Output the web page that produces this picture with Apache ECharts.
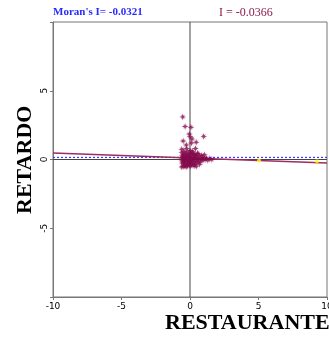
<!DOCTYPE html>
<html><head><meta charset="utf-8">
<script src="https://cdn.jsdelivr.net/npm/echarts@6/dist/echarts.min.js"></script>
<style>html,body{margin:0;padding:0;background:#fff}#c{width:329px;height:338px}</style>
</head><body><div id="c"></div>
<script>
const xTicks = [-10, -5, 0, 5, 10];
const yTicks = [-5, 0, 5];
const pointsX = [-0.53,-0.36,0.07,1.0,-0.05,0.0,-0.5,0.45,-0.27,-0.6,0.15,0.1,
 -0.6,-0.55,-0.58,-0.6,-0.55,-0.5,-0.45,-0.4,-0.42,-0.38,-0.35,-0.3,-0.3,-0.25,-0.22,-0.2,-0.18,-0.15,-0.12,-0.1,-0.08,-0.05,-0.02,0.0,0.02,0.05,0.08,0.1,0.12,0.15,0.18,0.2,0.22,0.25,0.28,0.3,0.33,0.36,0.4,0.42,0.45,0.5,0.52,0.55,0.6,0.65,0.7,0.75,0.8,0.85,0.9,0.95,1.0,1.1,1.2,1.3,1.45,1.6,-0.5,-0.48,-0.45,-0.4,-0.35,-0.32,-0.28,-0.2,-0.15,-0.1,0.0,0.05,0.1,0.2,0.3,0.35,0.45,0.6,-0.6,-0.52,0.0,-0.25,0.4,0.7,1.05];
const pointsY = [3.1,2.4,2.35,1.68,1.85,1.65,1.35,1.25,1.05,0.75,1.5,1.2,
 0.5,0.3,0.1,-0.1,-0.3,-0.5,0.6,0.2,-0.05,-0.25,0.45,0.05,-0.4,0.3,-0.15,0.55,-0.45,0.15,-0.3,0.4,-0.05,0.25,-0.2,0.65,-0.5,0.1,0.35,-0.35,0.0,0.5,-0.15,0.25,-0.4,0.05,0.4,-0.25,0.15,-0.05,0.3,-0.3,0.05,0.2,-0.15,0.45,0.0,-0.2,0.25,0.05,-0.1,0.3,0.1,-0.05,0.15,0.0,0.1,-0.05,0.05,0.0,0.0,-0.2,0.35,-0.45,-0.1,0.25,-0.55,0.0,-0.25,0.2,-0.35,0.45,-0.1,0.6,-0.45,0.35,-0.5,0.4,-0.55,0.2,0.0,0.8,0.8,-0.35,0.35];
const highlightX = [5.04, 9.27];
const highlightY = [-0.07, -0.12];
const slope = -0.0366;
const intercept = 0.11;
const refLevel = 0.15;
const title1 = "Moran's I= -0.0321";
const title2 = "I = -0.0366";
const xName = "RESTAURANTES";
const yName = "RETARDO";

const chart = echarts.init(document.getElementById('c'), null, {renderer:'canvas'});
const star = 'path://M5,0 L6,3.5 L8.5,1.5 L6.5,4 L10,5 L6.5,6 L8.5,8.5 L6,6.5 L5,10 L4,6.5 L1.5,8.5 L3.5,6 L0,5 L3.5,4 L1.5,1.5 L4,3.5 Z';
const pts = pointsX.map((x,i)=>[x,pointsY[i]]);
const hpts = highlightX.map((x,i)=>[x,highlightY[i]]);
const regLine = [[xTicks[0], intercept + slope*xTicks[0]], [xTicks[xTicks.length-1], intercept + slope*xTicks[xTicks.length-1]]];
const refLine = [[xTicks[0], refLevel], [xTicks[xTicks.length-1], refLevel]];
const labelFont = {fontFamily:'DejaVu Sans', fontSize:9, color:'#000'};
chart.setOption({
  animation:false,
  backgroundColor:'#fff',
  grid:{left:53, top:22, width:274, height:275, show:true, borderColor:'#777', borderWidth:1, backgroundColor:'transparent', containLabel:false, outerBoundsMode:'none'},
  xAxis:{type:'value', min:-10, max:10, interval:5,
    axisLine:{show:true, onZero:false, lineStyle:{color:'#777'}},
    axisTick:{show:true, length:3, lineStyle:{color:'#777'}},
    axisLabel:Object.assign({margin:5, hideOverlap:false, formatter:v=>xTicks.includes(v)?String(v):''}, labelFont),
    splitLine:{show:false}},
  yAxis:{type:'value', min:-10, max:10, interval:5,
    axisLine:{show:true, onZero:false, lineStyle:{color:'#777'}},
    axisTick:{show:true, length:3, lineStyle:{color:'#777'}},
    axisLabel:Object.assign({margin:4, rotate:90, formatter:v=>yTicks.includes(v)?String(v):''}, labelFont),
    splitLine:{show:false}},
  graphic:[
    {type:'text', left:53, top:7, style:{text:title1, font:'bold 11px "Liberation Serif"', fill:'#2a2aff'}},
    {type:'text', left:219, top:7, style:{text:title2, font:'12px "Liberation Serif"', fill:'#8b1a4a'}},
    {type:'text', x:165, y:312, style:{text:xName, font:'bold 22px "Liberation Serif"', fill:'#000'}},
    {type:'text', x:14, y:214, rotation:Math.PI/2, style:{text:yName, font:'bold 22px "Liberation Serif"', fill:'#000'}}
  ],
  series:[
    {type:'line', data:[[0,-10],[0,10]], symbol:'none', lineStyle:{color:'#444', width:1}, silent:true, z:1},
    {type:'line', data:[[-10,0],[10,0]], symbol:'none', lineStyle:{color:'#444', width:1}, silent:true, z:1},
    {type:'line', data:refLine, symbol:'none', lineStyle:{color:'#3a3aff', width:1.2, type:[2,2]}, silent:true, z:2},
    {type:'line', data:regLine, symbol:'none', lineStyle:{color:'#9b2d5f', width:1.5}, silent:true, z:3},
    {type:'scatter', data:pts, symbol:star, symbolSize:7, itemStyle:{color:'#850a4c'}, z:4},
    {type:'scatter', data:hpts, symbol:'circle', symbolSize:4, itemStyle:{color:'#ffff00'}, z:5}
  ]
});
</script></body></html>
